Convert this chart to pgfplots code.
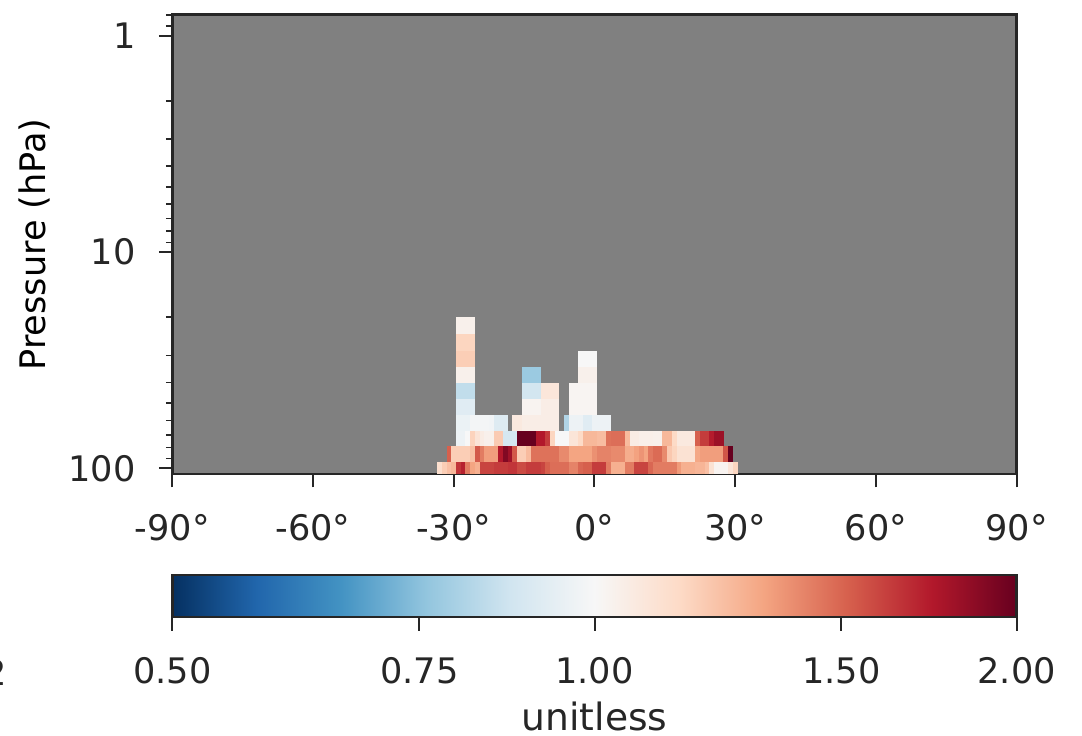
\documentclass[border=0pt]{standalone}
\usepackage{fontspec}
\setmainfont{DejaVu Sans}
\usepackage{pgfplots}
\pgfplotsset{compat=1.18}

\definecolor{axc}{HTML}{262626}
\definecolor{bggray}{HTML}{808080}

% one grid cell: 1 degree wide, half height = mark size
\pgfdeclareplotmark{cell}{%
  \pgfpathrectangle{\pgfpoint{-0.237mm}{-\pgfplotmarksize}}{\pgfpoint{0.474mm}{2\pgfplotmarksize}}%
  \pgfusepathqfill}

\pgfplotsset{
  cellrow/.style={scatter, only marks, mark=cell, point meta=explicit,
    scatter/use mapped color={draw=none, fill=mapped color}},
}

\begin{document}
\fontsize{10}{12}\selectfont
\begin{tikzpicture}
\begin{axis}[
  at={(17.23mm,26.1mm)}, anchor=south west,
  scale only axis, width=84.44mm, height=45.93mm,
  xmin=-90, xmax=90,
  ymode=log, y dir=reverse, ymin=0.797, ymax=106.3,
  axis background/.style={fill=bggray},
  axis on top,
  axis line style={axc, line width=0.25mm},
  tick align=outside, xtick pos=left, ytick pos=left,
  major tick length=1.35mm, minor tick length=0.65mm,
  every tick/.style={axc, line width=0.2mm},
  every minor tick/.style={axc, line width=0.15mm},
  xtick={-90,-60,-30,0,30,60,90},
  xticklabels={-90°,-60°,-30°,0°,30°,60°,90°},
  ytick={1,10,100}, yticklabels={1,10,100},
  minor ytick={0.8,0.9,2,3,4,5,6,7,8,9,20,30,40,50,60,70,80,90},
  tick label style={text=axc},
  xticklabel style={yshift=-1.4mm},
  yticklabel style={xshift=-1.1mm},
  ylabel={Pressure (hPa)},
  label style={text=axc, font=\fontsize{10.7}{12}\selectfont},
  every axis y label/.style={at={(axis description cs:-0.163,0.5)}, rotate=90, anchor=center},
  colormap={rdbur}{rgb255=(5,48,97) rgb255=(33,102,172) rgb255=(67,147,195)
    rgb255=(146,197,222) rgb255=(209,229,240) rgb255=(247,247,247)
    rgb255=(253,219,199) rgb255=(244,165,130) rgb255=(214,96,77)
    rgb255=(178,24,43) rgb255=(103,0,31)},
  point meta min=-1, point meta max=1,
  colorbar horizontal,
  colorbar style={
    at={(parent axis.south west)}, anchor=north west, yshift=-7.1mm,
    width=84.44mm, height=4.2mm,
    xtick={-1,-0.415037,0,0.584963,1},
    xticklabels={0.50,0.75,1.00,1.50,2.00},
    xlabel={unitless},
    tick align=outside, xtick pos=left,
    major tick length=1.35mm,
    axis line style={axc, line width=0.25mm},
    every tick/.style={axc, line width=0.2mm},
    tick label style={text=axc},
    xticklabel style={yshift=-1.4mm},
    label style={text=axc, font=\fontsize{10.7}{12}\selectfont},
    xlabel style={yshift=0.6mm},
  },
]
% 100 hPa row
\addplot[cellrow, mark size=0.61mm] table[y expr=99.7, meta=c] {
x c
-33 0.17
-32 0.25
-31 0.30
-30 0.33
-29 0.72
-28 0.78
-27 0.52
-26 0.40
-25 0.36
-24 0.68
-23 0.68
-22 0.68
-21 0.70
-20 0.70
-19 0.70
-18 0.72
-17 0.72
-16 0.66
-15 0.66
-14 0.70
-13 0.70
-12 0.70
-11 0.68
-10 0.60
-9 0.56
-8 0.56
-7 0.56
-6 0.56
-5 0.50
-4 0.50
-3 0.58
-2 0.60
-1 0.60
0 0.70
1 0.70
2 0.70
3 0.52
4 0.36
5 0.36
6 0.36
7 0.52
8 0.52
9 0.68
10 0.68
11 0.68
12 0.58
13 0.52
14 0.52
15 0.52
16 0.52
17 0.52
18 0.43
19 0.36
20 0.36
21 0.36
22 0.34
23 0.34
24 0.30
25 0.15
26 0.03
27 0.03
28 0.03
29 0.13
30 0.22
};
% 86 hPa row
\addplot[cellrow, mark size=0.81mm] table[y expr=85.88, meta=c] {
x c
-31 0.60
-30 0.25
-29 0.25
-28 0.25
-27 0.25
-26 0.30
-25 0.62
-24 0.52
-23 0.42
-22 0.42
-21 0.42
-20 0.80
-19 0.93
-18 0.85
-17 0.62
-16 0.25
-15 0.25
-14 0.32
-13 0.55
-12 0.55
-11 0.55
-10 0.55
-9 0.55
-8 0.55
-7 0.48
-6 0.48
-5 0.40
-4 0.40
-3 0.40
-2 0.40
-1 0.40
0 0.46
1 0.50
2 0.50
3 0.50
4 0.48
5 0.48
6 0.48
7 0.37
8 0.37
9 0.41
10 0.45
11 0.40
12 0.53
13 0.57
14 0.57
15 0.48
16 0.27
17 0.22
18 0.15
19 0.15
20 0.15
21 0.15
22 0.39
23 0.42
24 0.42
25 0.42
26 0.42
27 0.42
28 0.63
29 1.00
};
% 73 hPa row
\addplot[cellrow, mark size=0.76mm] table[y expr=72.81, meta=c] {
x c
-29 -0.05
-28 -0.05
-27 0.00
-26 0.23
-25 0.14
-24 0.08
-23 0.05
-22 0.05
-21 0.26
-20 0.26
-19 -0.18
-18 -0.18
-17 -0.18
-16 1.00
-15 1.00
-14 1.00
-13 1.00
-12 0.80
-11 0.80
-10 0.70
-9 0.22
-8 0.00
-7 0.00
-6 0.00
-5 0.13
-4 0.13
-3 0.20
-2 0.33
-1 0.33
0 0.33
1 0.31
2 0.31
3 0.55
4 0.56
5 0.56
6 0.56
7 0.32
8 0.08
9 0.08
10 0.06
11 0.06
12 0.06
13 0.05
14 0.05
15 0.33
16 0.33
17 0.20
18 0.10
19 0.10
20 0.10
21 0.10
22 0.60
23 0.70
24 0.70
25 0.79
26 0.86
27 0.86
};
% 31-62 hPa rows
\addplot[cellrow, mark size=0.81mm] table[meta=c] {
x y c
-29 61.72 -0.06
-28 61.72 -0.06
-27 61.72 -0.06
-26 61.72 -0.02
-25 61.72 -0.02
-24 61.72 -0.02
-23 61.72 -0.02
-22 61.72 -0.03
-21 61.72 -0.13
-20 61.72 -0.13
-19 61.72 -0.13
-17 61.72 0.10
-16 61.72 0.10
-15 61.72 0.07
-14 61.72 0.07
-13 61.72 0.07
-12 61.72 0.07
-11 61.72 0.07
-10 61.72 0.07
-9 61.72 0.07
-8 61.72 0.07
-6 61.72 -0.30
-5 61.72 -0.05
-4 61.72 -0.05
-3 61.72 -0.05
-2 61.72 -0.12
-1 61.72 -0.12
0 61.72 -0.05
1 61.72 -0.05
2 61.72 -0.05
3 61.72 -0.05
-29 52.05 -0.12
-28 52.05 -0.12
-27 52.05 -0.12
-26 52.05 -0.12
-15 52.05 0.03
-14 52.05 0.03
-13 52.05 0.03
-12 52.05 0.03
-11 52.05 0.07
-10 52.05 0.07
-9 52.05 0.07
-8 52.05 0.07
-5 52.05 0.02
-4 52.05 0.02
-3 52.05 0.02
-2 52.05 0.02
-1 52.05 0.02
0 52.05 0.02
-29 43.90 -0.25
-28 43.90 -0.25
-27 43.90 -0.25
-26 43.90 -0.25
-15 43.90 -0.19
-14 43.90 -0.19
-13 43.90 -0.19
-12 43.90 -0.19
-11 43.90 0.12
-10 43.90 0.12
-9 43.90 0.12
-8 43.90 0.12
-5 43.90 0.02
-4 43.90 0.02
-3 43.90 0.02
-2 43.90 0.02
-1 43.90 0.02
0 43.90 0.02
-29 37.02 0.05
-28 37.02 0.05
-27 37.02 0.05
-26 37.02 0.05
-15 37.02 -0.37
-14 37.02 -0.37
-13 37.02 -0.37
-12 37.02 -0.37
-3 37.02 0.05
-2 37.02 0.05
-1 37.02 0.05
0 37.02 0.05
-29 31.22 0.25
-28 31.22 0.25
-27 31.22 0.25
-26 31.22 0.25
-3 31.22 0.00
-2 31.22 0.00
-1 31.22 0.00
0 31.22 0.00
};
% 26 hPa row
\addplot[cellrow, mark size=0.875mm] table[y expr=26.13, meta=c] {
x c
-29 0.22
-28 0.22
-27 0.22
-26 0.22
};
% 22 hPa row
\addplot[cellrow, mark size=0.84mm] table[y expr=21.8, meta=c] {
x c
-29 0.05
-28 0.05
-27 0.05
-26 0.05
};
\end{axis}
\node[anchor=base east, text=axc, inner sep=0pt] at (0.8mm,5.0mm) {2};
\pgfresetboundingbox
\useasboundingbox (0,0) rectangle (108.2mm,73.5mm);
\end{tikzpicture}
\end{document}
